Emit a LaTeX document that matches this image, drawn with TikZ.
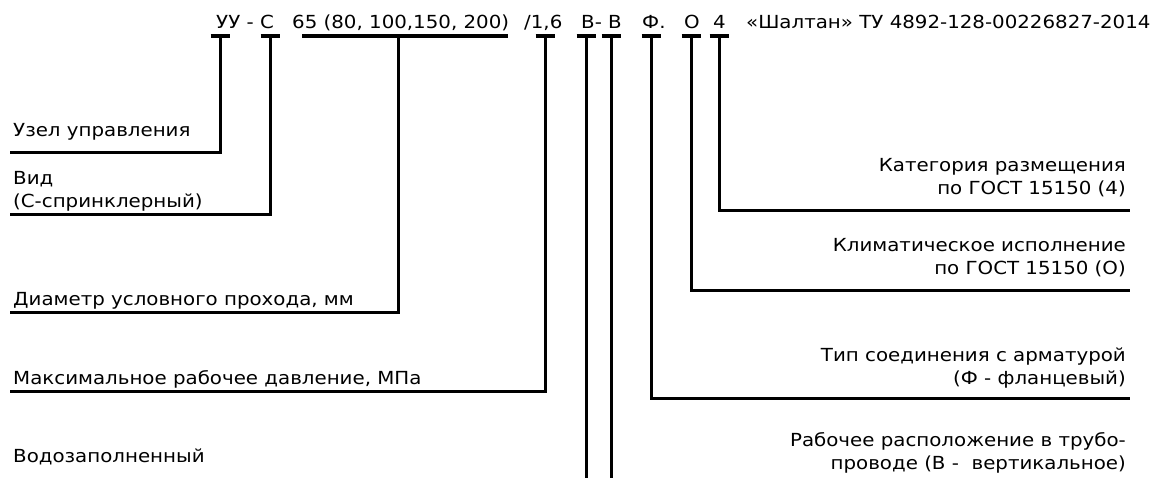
\documentclass[tikz,border=0pt]{standalone}
\usepackage{fontspec}
\setmainfont{DejaVu Sans}[FakeStretch=1.1]
\begin{document}
\begin{tikzpicture}[x=1pt,y=-1pt,
  lbl/.style={inner sep=0pt,font=\fontsize{18}{23}\selectfont},
  llbl/.style={lbl,anchor=base west,align=left},
  rlbl/.style={lbl,anchor=base east,align=right},
  code/.style={lbl,anchor=base west},
  lead/.style={line width=3pt,line cap=rect,line join=miter},
  tick/.style={line width=3.2pt}]
\useasboundingbox (0,0) rectangle (1162,478);
% code line
\node[code] (c1) at (216,29) {УУ - С};
\node[code] (c2) at (292,29) {65 (80, 100,150, 200)};
\node[code] (c2b) at (524,29) {/1,6};
\node[code] (c3) at (581,29) {В- В};
\node[code] (c4) at (642,29) {Ф.};
\node[code] (c5) at (684,29) {О};
\node[code] (c6) at (713,29) {4};
\node[code] (c7) at (746,29) {«Шалтан» ТУ 4892-128-00226827-2014};
% tick tops
\coordinate (t1) at (220,36);
\coordinate (t2) at (270,36);
\coordinate (t3) at (398,36);
\coordinate (t4) at (545,36);
\coordinate (t5) at (586,36);
\coordinate (t6) at (611,36);
\coordinate (t7) at (651,36);
\coordinate (t8) at (691,36);
\coordinate (t9) at (719,36);
\foreach \t in {t1,t2,t4,t5,t6,t7,t8,t9}{
  \draw[tick] ([xshift=-9.5pt]\t) -- ([xshift=9.5pt]\t);
}
\draw[tick] (302,36) -- (508,36);
% left labels (base = last line)
\node[llbl] (l1) at (13,137) {Узел управления};
\node[llbl] (l2) at (13,208) {Вид\\(С-спринклерный)};
\node[llbl] (l3) at (13,306) {Диаметр условного прохода, мм};
\node[llbl] (l4) at (13,384) {Максимальное рабочее давление, МПа};
\node[llbl] (l5) at (13,462) {Водозаполненный};
% right labels
\node[rlbl] (r1) at (1126,195) {Категория размещения\\по ГОСТ 15150 (4)};
\node[rlbl] (r2) at (1126,275) {Климатическое исполнение\\по ГОСТ 15150 (О)};
\node[rlbl] (r3) at (1126,384) {Тип соединения с арматурой\\(Ф - фланцевый)};
\node[rlbl] (r4) at (1126,469) {Рабочее расположение в трубо-\\проводе (В -\ \ вертикальное)};
% leaders
\draw[lead] (t1) -- (220,153) -- (11,153);
\draw[lead] (t2) -- (270,215) -- (11,215);
\draw[lead] (t3) -- (398,313) -- (11,313);
\draw[lead] (t4) -- (545,391) -- (11,391);
\draw[line width=3pt] (t5) -- (586,478);
\draw[line width=3pt] (t6) -- (611,478);
\draw[lead] (t7) -- (651,398) -- (1128,398);
\draw[lead] (t8) -- (691,291) -- (1128,291);
\draw[lead] (t9) -- (719,211) -- (1128,211);
\end{tikzpicture}
\end{document}
